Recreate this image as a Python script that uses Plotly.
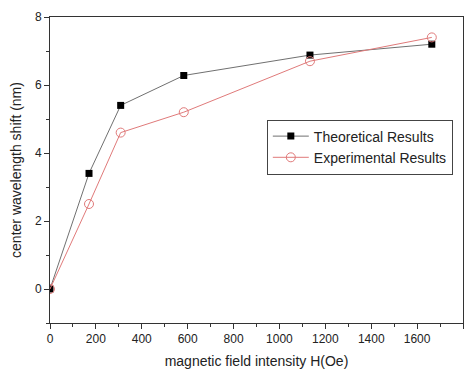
import plotly.graph_objects as go

field = [0, 170, 308, 583, 1133, 1664]
theoretical = [0, 3.4, 5.4, 6.28, 6.88, 7.2]
experimental = [0, 2.5, 4.6, 5.2, 6.7, 7.4]

fig = go.Figure()
fig.add_trace(go.Scatter(x=field, y=theoretical, mode="lines+markers", name="Theoretical Results",
                         line=dict(color="#707070", width=1),
                         marker=dict(symbol="square", size=7, color="black")))
fig.add_trace(go.Scatter(x=field, y=experimental, mode="lines+markers", name="Experimental Results",
                         line=dict(color="#e07a7a", width=1),
                         marker=dict(symbol="circle-open", size=9, color="#e07a7a", line=dict(width=1))))

font = "Liberation Sans, Arial, sans-serif"
# page body has an 8px default margin, so the figure is sized to fill the rest of the window
fig.update_layout(
    width=467, height=361,
    margin=dict(l=42, r=12, t=9, b=46),
    paper_bgcolor="white", plot_bgcolor="white",
    font=dict(family=font, color="#222222", size=12),
    legend=dict(x=0.525, y=0.665, xanchor="left", yanchor="top",
                bordercolor="#444444", borderwidth=1, bgcolor="white",
                font=dict(size=14, color="#222222"), tracegroupgap=0, itemwidth=36),
    xaxis=dict(range=[0, 1800], dtick=200, showgrid=False, zeroline=False, automargin=False,
               showline=True, linecolor="#333333", linewidth=1, mirror=True,
               ticks="outside", ticklen=5, tickcolor="#333333",
               minor=dict(dtick=100, ticks="outside", ticklen=3, tickcolor="#333333"),
               title=dict(text="magnetic field intensity H(Oe)", font=dict(size=14), standoff=10)),
    yaxis=dict(range=[-1, 8], tickvals=[0, 2, 4, 6, 8], showgrid=False, zeroline=False, automargin=False,
               showline=True, linecolor="#333333", linewidth=1, mirror=True,
               ticks="outside", ticklen=5, tickcolor="#333333",
               minor=dict(tickvals=[-1, 1, 3, 5, 7], ticks="outside", ticklen=3, tickcolor="#333333"),
               title=dict(text="center wavelength shift (nm)", font=dict(size=14), standoff=10)),
)
fig.write_html("out.html")
